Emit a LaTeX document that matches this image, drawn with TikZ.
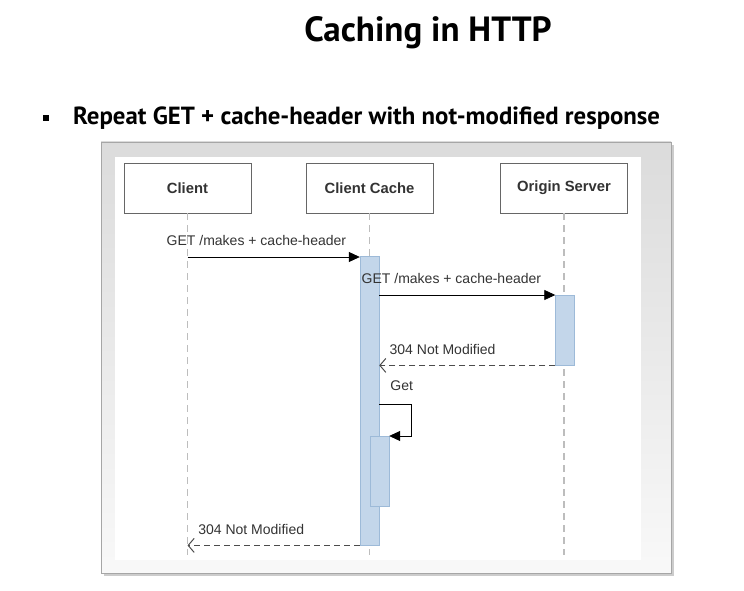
\documentclass[tikz,border=0pt]{standalone}
\usepackage{fontspec}
\setmainfont{Liberation Sans}
\newfontfamily\headfont{PT Sans}
\usepackage{xcolor}
\usetikzlibrary{arrows.meta,positioning,calc}

\definecolor{barfill}{HTML}{C3D6EA}
\definecolor{barline}{HTML}{9DBAD8}
\definecolor{lifegray}{HTML}{BDBDBD}
\definecolor{textgray}{HTML}{333333}

\begin{document}
\begin{tikzpicture}[
    x=1pt, y=-1pt,
    actor/.style={rectangle, draw=gray!80!black, fill=white, minimum width=127pt, minimum height=50pt, font=\bfseries\fontsize{14.8}{17}\selectfont, text=textgray},
    lifeline/.style={draw=lifegray, line width=1.2pt, dash pattern=on 7pt off 5pt},
    activation/.style={rectangle, draw=barline, fill=barfill, minimum width=19pt, anchor=north, inner sep=0pt},
    msg/.style={-{Triangle[length=11pt, width=10pt]}, line width=0.8pt},
    reply/.style={-{Straight Barb[length=6pt, width=14pt]}, draw=gray!60!black, line width=1pt, dash pattern=on 6pt off 4pt},
    lbl/.style={font=\fontsize{14}{16}\selectfont, text=textgray, inner sep=1pt},
]
\useasboundingbox (0,0) rectangle (744,591);

% Heading
\node[font=\headfont\bfseries\fontsize{35}{40}\selectfont] (title) at (428,33) {Caching in HTTP};
\node[fill=black, minimum size=6pt, inner sep=0pt] (bullet) at (46,118) {};
\node[font=\headfont\bfseries\fontsize{24.8}{28}\selectfont, anchor=west, inner sep=0pt] (point) at (73,118) {Repeat GET + cache-header with not-modified response};

% Frame
\fill[gray!40] (104,145) rectangle (674,576);
\shade[top color=gray!28, bottom color=gray!5, draw=gray!70] (101,142) rectangle (671,573);
\fill[white] (115,157) rectangle (641,560);

% Lifelines
\node[actor] (client) at (187.5,188) {Client};
\node[actor] (cache) at (369.5,188) {Client Cache};
\node[actor] (origin) at (564,188) {Origin Server};
\foreach \who in {client, cache, origin}
    \draw[lifeline] (\who.south) -- (\who.south |- 0,555);

% Activations
\node[activation, minimum height=289pt] (cachebar) at (369.5,256) {};
\node[activation, minimum height=70pt] (originbar) at (565,295) {};
\node[activation, minimum height=70pt] (innerbar) at (379.5,436) {};

% Messages
\coordinate (reqstart) at (client.south |- 0,257);
\draw[msg] (reqstart) -- (reqstart -| cachebar.west)
    node[lbl, pos=0.40, above=10pt] {GET /makes + cache-header};
\coordinate (fwdstart) at (cachebar.east |- 0,295);
\draw[msg] (fwdstart) -- (originbar.north west)
    node[lbl, pos=0.41, above=10pt] {GET /makes + cache-header};
\draw[reply] (originbar.south west) -- (originbar.south west -| cachebar.east)
    node[lbl, pos=0.64, above=9pt] {304 Not Modified};
\coordinate (selfstart) at (cachebar.east |- 0,404);
\coordinate (selfturn) at ($(selfstart)+(32,0)$);
\draw[msg] (selfstart) -- (selfturn) -- (selfturn |- innerbar.north) -- (innerbar.north east);
\node[lbl, anchor=south west] (getlbl) at ($(selfstart)+(10,-12)$) {Get};
\draw[reply] (cachebar.south west) -- (cachebar.south west -| client.south)
    node[lbl, pos=0.63, above=9pt] {304 Not Modified};

\end{tikzpicture}
\end{document}
